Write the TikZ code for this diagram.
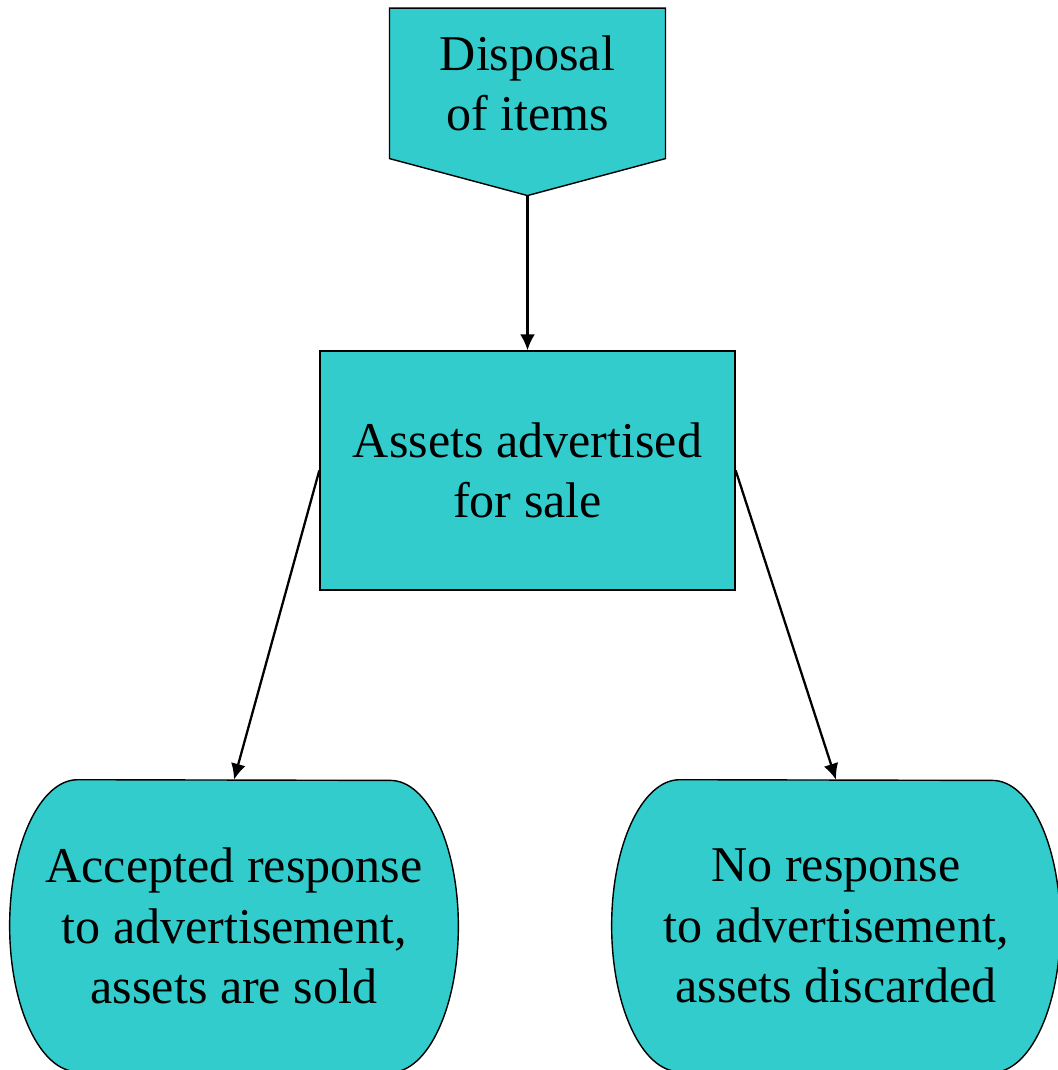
\documentclass[tikz,border=0pt]{standalone}
\usepackage{fontspec}
\setmainfont{Liberation Serif}
\usetikzlibrary{arrows.meta,positioning,shapes.symbols,backgrounds,calc}
\definecolor{boxteal}{RGB}{51,204,204}

\begin{document}
\begin{tikzpicture}[
    >={Latex[length=0.32cm,width=0.3cm]},
    entry/.style={signal, signal to=south, signal from=nowhere, signal pointer angle=150, draw=black, line width=0.8pt, fill=boxteal, align=center, minimum width=5.52cm, minimum height=3.48cm, inner sep=0pt},
    stage/.style={rectangle, draw=black, line width=0.8pt, fill=boxteal, align=center, minimum width=8.3cm, minimum height=4.78cm},
    outcome/.style={rectangle, align=center, minimum width=8.96cm, minimum height=5.84cm, inner sep=0pt},
    font=\fontsize{28.5}{34.4}\selectfont
  ]
    \useasboundingbox (0,0) rectangle (21.14,-21.4);

    \node[stage] (advert) at (10.55,-9.41) {Assets advertised\\for sale};
    \node[entry, above=3.08cm of advert] (disposal) {Disposal\\of items};

    \node[outcome, below=3.78cm of advert, xshift=-5.87cm] (sold) {Accepted response\\to advertisement,\\assets are sold};
    \node[outcome, below=3.78cm of advert, xshift=6.17cm] (discarded) {No response\\to advertisement,\\assets discarded};

    % barrel outlines behind the outcome texts
    \begin{scope}[on background layer]
      \foreach \n in {sold,discarded}
        \draw[line width=0.8pt, fill=boxteal]
          ($(\n.north west)+(1.36,0)$) arc[start angle=90, end angle=270, x radius=1.36cm, y radius=2.92cm]
          -- ($(\n.south east)+(-1.36,0)$) arc[start angle=-90, end angle=90, x radius=1.36cm, y radius=2.92cm]
          -- cycle;
    \end{scope}

    \draw[->, line width=1.3pt] (disposal.south) -- (advert.north);
    \draw[->, line width=1.3pt] (advert.west) -- (sold.north);
    \draw[->, line width=1.3pt] (advert.east) -- (discarded.north);
\end{tikzpicture}
\end{document}
